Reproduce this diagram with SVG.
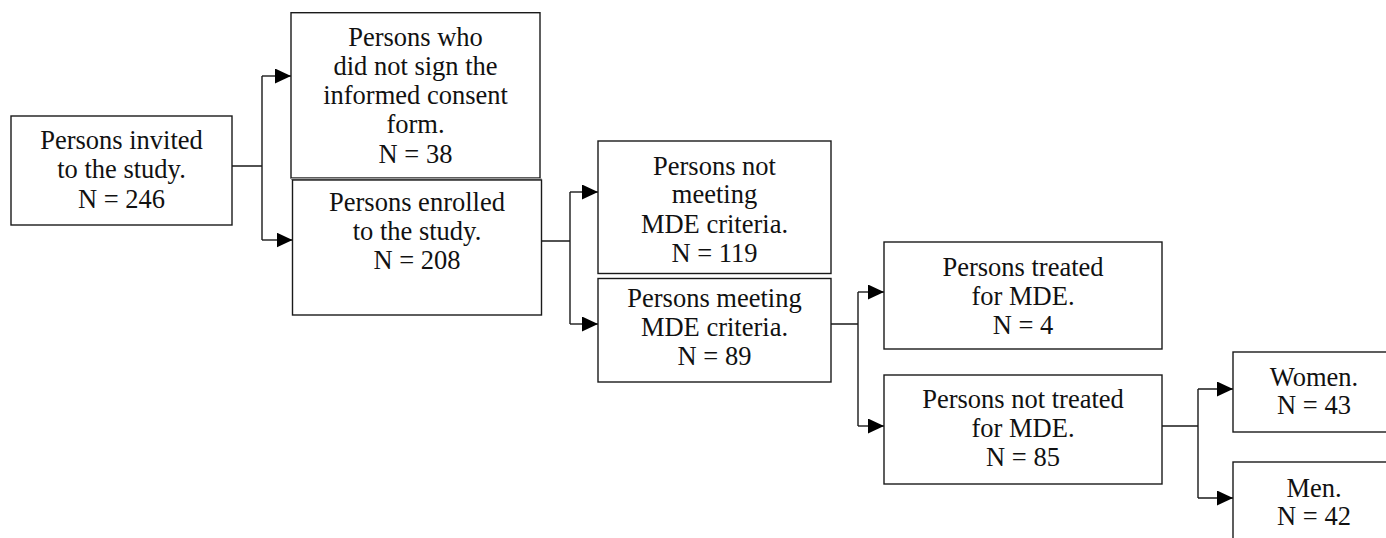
<svg xmlns="http://www.w3.org/2000/svg" width="1386" height="538" viewBox="0 0 1386 538">
<style>
.box{fill:#fff;stroke:#1a1a1a;stroke-width:1.4}
.t{font-family:"Liberation Serif","Times New Roman",serif;font-size:26.5px;fill:#111;text-anchor:middle}
.c{fill:none;stroke:#1a1a1a;stroke-width:1.4}
</style>
<defs>
<marker id="ah" markerUnits="userSpaceOnUse" markerWidth="17" markerHeight="16" refX="16" refY="7.5" orient="auto">
<path d="M0,0 L16,7.5 L0,15 z" fill="#000"/>
</marker>
</defs>
<rect width="1386" height="538" fill="#fff"/>
<g id="connectors">
<path class="c" d="M232,166 H262 M262,76 V240 M542,241 H570 M570,192 V324 M831,324 H858 M858,292 V426 M1162,426 H1198 M1198,389 V498"/>
<path class="c" d="M262,76 H291" marker-end="url(#ah)"/>
<path class="c" d="M262,240 H292.5" marker-end="url(#ah)"/>
<path class="c" d="M570,192 H598" marker-end="url(#ah)"/>
<path class="c" d="M570,324 H598" marker-end="url(#ah)"/>
<path class="c" d="M858,292 H884" marker-end="url(#ah)"/>
<path class="c" d="M858,426 H884" marker-end="url(#ah)"/>
<path class="c" d="M1198,389 H1233" marker-end="url(#ah)"/>
<path class="c" d="M1198,498 H1233" marker-end="url(#ah)"/>
</g>
<g id="invited">
<rect class="box" x="11" y="116" width="221" height="109"/>
<text class="t" x="121.5" y="149">Persons invited</text>
<text class="t" x="121.5" y="178">to the study.</text>
<text class="t" x="121.5" y="208">N = 246</text>
</g>
<g id="not-signed">
<rect class="box" x="291" y="12.7" width="249" height="165.3"/>
<text class="t" x="415.5" y="46">Persons who</text>
<text class="t" x="415.5" y="75">did not sign the</text>
<text class="t" x="415.5" y="104">informed consent</text>
<text class="t" x="415.5" y="133">form.</text>
<text class="t" x="415.5" y="163">N = 38</text>
</g>
<g id="enrolled">
<rect x="291" y="178" width="250.5" height="2" fill="#9a9a9a"/>
<rect class="box" x="292.5" y="180" width="249" height="135"/>
<text class="t" x="417" y="211">Persons enrolled</text>
<text class="t" x="417" y="240">to the study.</text>
<text class="t" x="417" y="269">N = 208</text>
</g>
<g id="not-meeting">
<rect class="box" x="598" y="141" width="233" height="132.5"/>
<text class="t" x="714.5" y="175">Persons not</text>
<text class="t" x="714.5" y="203">meeting</text>
<text class="t" x="714.5" y="233">MDE criteria.</text>
<text class="t" x="714.5" y="262">N = 119</text>
</g>
<g id="meeting">
<rect class="box" x="598" y="278.5" width="233" height="103.5"/>
<text class="t" x="714.5" y="307">Persons meeting</text>
<text class="t" x="714.5" y="336">MDE criteria.</text>
<text class="t" x="714.5" y="365">N = 89</text>
</g>
<g id="treated">
<rect class="box" x="884" y="242" width="278" height="107"/>
<text class="t" x="1023" y="276">Persons treated</text>
<text class="t" x="1023" y="305">for MDE.</text>
<text class="t" x="1023" y="334">N = 4</text>
</g>
<g id="not-treated">
<rect class="box" x="884" y="375" width="278" height="109"/>
<text class="t" x="1023" y="408">Persons not treated</text>
<text class="t" x="1023" y="437">for MDE.</text>
<text class="t" x="1023" y="466">N = 85</text>
</g>
<g id="women">
<rect class="box" x="1233" y="352" width="200" height="80"/>
<text class="t" x="1314" y="386">Women.</text>
<text class="t" x="1314" y="414">N = 43</text>
</g>
<g id="men">
<rect class="box" x="1233" y="462" width="200" height="100"/>
<text class="t" x="1314" y="497">Men.</text>
<text class="t" x="1314" y="525">N = 42</text>
</g>
</svg>
